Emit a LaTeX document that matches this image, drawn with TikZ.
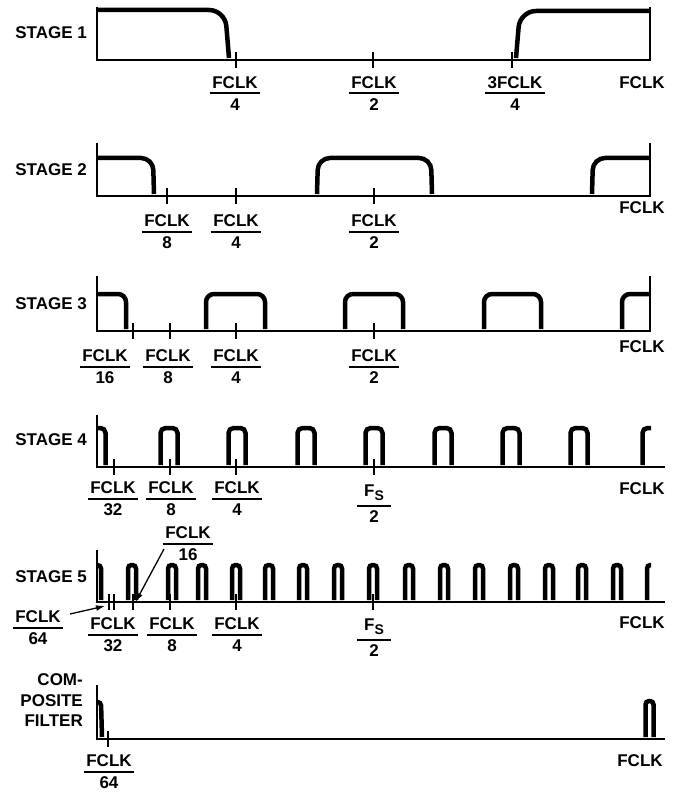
\documentclass[tikz,border=0pt]{standalone}
\usepackage{fontspec}
\setmainfont{Liberation Sans}
\usetikzlibrary{calc,arrows.meta}
\tikzset{
  axisline/.style={line width=2pt},
  pulse/.style={line width=4.5pt},
  tickmark/.style={line width=2pt},
  frline/.style={line width=2pt},
  lbl/.style={font=\bfseries\fontsize{17}{17}\selectfont, inner sep=0pt},
  stagelbl/.style={lbl, anchor=east},
  pointer/.style={line width=1.3pt, -{Latex[length=9pt,width=6pt]}}
}
% fraction label: name, x, y(numerator centre), numerator, denominator
\newcommand\frlab[5]{%
  \node[lbl] (#1n) at (#2,#3) {#4};
  \node[lbl] (#1d) at (#2,#3+21.5) {#5};
  \draw[frline] ($(#1n.west)+(-2.5,10.5)$) -- ($(#1n.east)+(2.5,10.5)$);
}
% Fs/2 label: name, x, baseline y
\newcommand\fslab[3]{%
  \node[lbl, anchor=base] (#1n) at (#2,#3) {F\raisebox{-4pt}{\fontsize{14}{14}\selectfont S}};
  \node[lbl] (#1d) at (#2,#3+21) {2};
  \draw[frline] (#2-17,#3+10) -- (#2+17,#3+10);
}
\begin{document}
\begin{tikzpicture}[x=1pt,y=-1pt]
\useasboundingbox (0,0) rectangle (680,794);

% ---------------- STAGE 1 ----------------
\node[stagelbl] (s1) at (87,33) {STAGE 1};
\draw[axisline] (97,7) -- (97,60) -- (651,60);
\draw[axisline] (650,7) -- (650,60);
\foreach \t in {236,373,512} \draw[tickmark] (\t,52) -- (\t,68);
\draw[pulse, rounded corners=16pt] (97,10) -- (225,10) -- (229,58);
\draw[pulse, rounded corners=16pt] (516,58) -- (520,11) -- (650,11);
\frlab{a1}{235}{83}{FCLK}{4}
\frlab{a2}{374}{83}{FCLK}{2}
\frlab{a3}{515}{83}{3FCLK}{4}
\node[lbl] (r1) at (642,83) {FCLK};

% ---------------- STAGE 2 ----------------
\node[stagelbl] (s2) at (87,170) {STAGE 2};
\draw[axisline] (97,143) -- (97,196) -- (651,196);
\draw[axisline] (650,143) -- (650,196);
\foreach \t in {167,236,374} \draw[tickmark] (\t,188) -- (\t,204);
\draw[pulse, rounded corners=12pt] (97,158) -- (153,158) -- (154,194);
\draw[pulse, rounded corners=12pt] (317,194) -- (318,158) -- (431,158) -- (432,194);
\draw[pulse, rounded corners=12pt] (592,194) -- (593,158) -- (650,158);
\frlab{b1}{167}{221}{FCLK}{8}
\frlab{b2}{236}{221}{FCLK}{4}
\frlab{b3}{374}{221}{FCLK}{2}
\node[lbl] (r2) at (642,208) {FCLK};

% ---------------- STAGE 3 ----------------
\node[stagelbl] (s3) at (87,304) {STAGE 3};
\draw[axisline] (97,276) -- (97,331) -- (651,331);
\draw[axisline] (650,276) -- (650,331);
\foreach \t in {133,170,236,374} \draw[tickmark] (\t,323) -- (\t,339);
\draw[pulse, rounded corners=8pt] (97,294) -- (126,294) -- (126,329);
\foreach \a/\b in {206/265,345/403,484/541}
  \draw[pulse, rounded corners=8pt] (\a,329) -- (\a,294) -- (\b,294) -- (\b,329);
\draw[pulse, rounded corners=8pt] (622,329) -- (622,294) -- (650,294);
\frlab{c1}{105}{356}{FCLK}{16}
\frlab{c2}{168}{356}{FCLK}{8}
\frlab{c3}{236}{356}{FCLK}{4}
\frlab{c4}{374}{356}{FCLK}{2}
\node[lbl] (r3) at (642,347) {FCLK};

% ---------------- STAGE 4 ----------------
\node[stagelbl] (s4) at (87,440) {STAGE 4};
\draw[axisline] (97,415) -- (97,467) -- (665,467);
\foreach \t in {114,170,236,374} \draw[tickmark] (\t,459) -- (\t,475);
\draw[pulse, rounded corners=5pt] (97,428) -- (105.5,428) -- (105.5,465);
\foreach \c in {169,237,306,374,443,511,579}
  \draw[pulse, rounded corners=5pt] (\c-8.5,465) -- (\c-8.5,428) -- (\c+8.5,428) -- (\c+8.5,465);
\draw[pulse, rounded corners=5pt] (642.5,465) -- (642.5,428) -- (651,428);
\frlab{d1}{113}{488}{FCLK}{32}
\frlab{d2}{171}{488}{FCLK}{8}
\frlab{d3}{237}{488}{FCLK}{4}
\fslab{d4}{374}{496}
\node[lbl] (r4) at (642,489) {FCLK};

% ---------------- STAGE 5 ----------------
\node[stagelbl] (s5) at (87,577) {STAGE 5};
\draw[axisline] (97,550) -- (97,602) -- (665,602);
\foreach \t in {109,114,133,170,236,373} \draw[tickmark] (\t,594) -- (\t,610);
\draw[pulse, rounded corners=3.5pt] (97,565) -- (101,565) -- (101,600);
\foreach \c in {132,172,202,236,269,303,338,373,409,444,479,514,549,582,617}
  \draw[pulse, rounded corners=3.5pt] (\c-4,600) -- (\c-4,565) -- (\c+4,565) -- (\c+4,600);
\draw[pulse, rounded corners=3.5pt] (647,600) -- (647,565) -- (651,565);
\frlab{e0}{188}{533}{FCLK}{16}
\frlab{ea}{38}{617}{FCLK}{64}
\frlab{e1}{113}{624}{FCLK}{32}
\frlab{e2}{172}{624}{FCLK}{8}
\frlab{e3}{237}{624}{FCLK}{4}
\fslab{e4}{374}{630}
\node[lbl] (r5) at (642,623) {FCLK};
\coordinate (p16s) at (164,549);
\coordinate (p16e) at (135.5,602);
\coordinate (p64s) at (70,614);
\coordinate (p64e) at (105,606);
\draw[pointer] (p16s) -- (p16e);
\draw[pointer] (p64s) -- (p64e);

% ---------------- COMPOSITE ----------------
\node[lbl, anchor=east] (cf1) at (83,680) {COM-};
\node[lbl, anchor=east] (cf2) at (83,700.5) {POSITE};
\node[lbl, anchor=east] (cf3) at (83,721) {FILTER};
\draw[axisline] (97,685) -- (97,739) -- (665,739);
\draw[tickmark] (108,731) -- (108,747);
\draw[pulse, rounded corners=3.5pt] (97,702) -- (101,702) -- (102,737);
\draw[pulse, rounded corners=3.5pt] (645.5,737) -- (645.5,701) -- (653.5,701) -- (653.5,737);
\frlab{f1}{109}{761}{FCLK}{64}
\node[lbl] (r6) at (640,761) {FCLK};
\end{tikzpicture}
\end{document}
